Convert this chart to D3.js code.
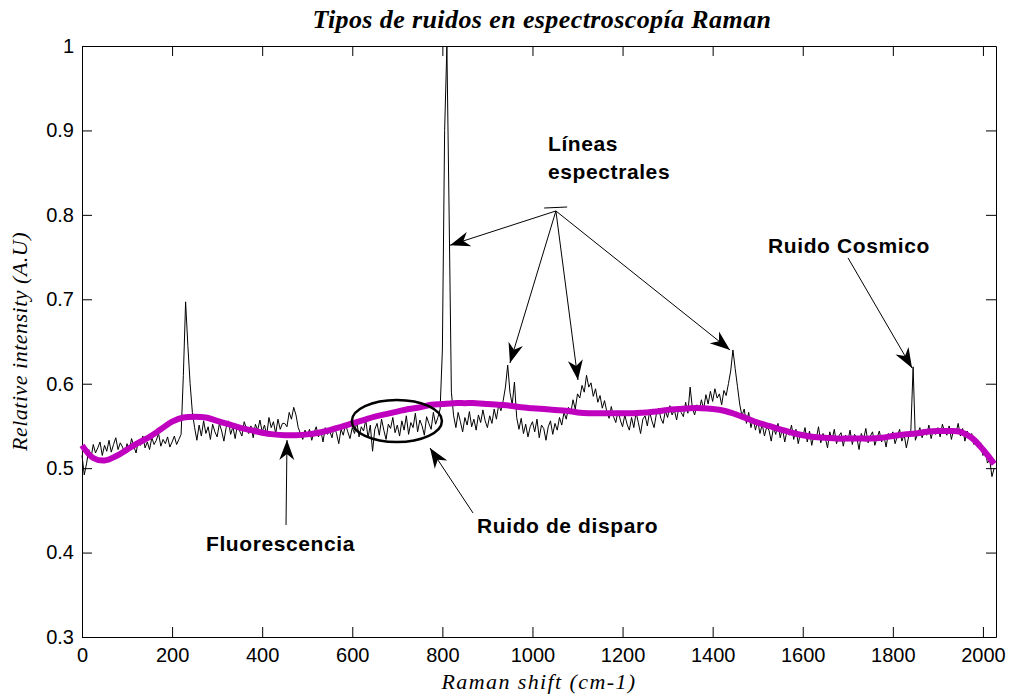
<!DOCTYPE html>
<html>
<head>
<meta charset="utf-8">
<script src="https://cdn.jsdelivr.net/npm/d3@7"></script>
<style>
  html, body { margin: 0; padding: 0; background: #fff; }
  svg { display: block; }
</style>
</head>
<body>
<svg id="chart" width="1009" height="700"></svg>
<script>
// Raman spectrum sampled every 5 cm-1, from 0 to 2025
const shiftStep = 5;
const intensity = [
  // 0 - 95
  0.515, 0.492, 0.505, 0.522, 0.512, 0.528, 0.518, 0.524, 0.531, 0.515, 0.527, 0.520, 0.533, 0.519, 0.528, 0.536, 0.522, 0.530, 0.525, 0.517,
  // 100 - 195
  0.529, 0.521, 0.535, 0.526, 0.518, 0.532, 0.527, 0.538, 0.524, 0.531, 0.522, 0.536, 0.528, 0.533, 0.541, 0.526, 0.534, 0.529, 0.537, 0.525,
  // 200 - 295
  0.531, 0.538, 0.528, 0.534, 0.540, 0.610, 0.697, 0.645, 0.600, 0.566, 0.548, 0.533, 0.551, 0.538, 0.556, 0.541, 0.549, 0.534, 0.552, 0.543,
  // 300 - 395
  0.537, 0.553, 0.544, 0.532, 0.548, 0.556, 0.540, 0.549, 0.535, 0.551, 0.544, 0.538, 0.555, 0.547, 0.541, 0.550, 0.536, 0.552, 0.545, 0.557,
  // 400 - 495
  0.543, 0.551, 0.539, 0.560, 0.548, 0.555, 0.541, 0.558, 0.546, 0.553, 0.553, 0.549, 0.566, 0.558, 0.572, 0.563, 0.548, 0.541, 0.534, 0.545,
  // 500 - 595
  0.538, 0.546, 0.533, 0.542, 0.549, 0.537, 0.545, 0.531, 0.548, 0.540, 0.544, 0.536, 0.550, 0.541, 0.529, 0.546, 0.539, 0.552, 0.543, 0.535,
  // 600 - 695
  0.548, 0.541, 0.555, 0.537, 0.549, 0.544, 0.557, 0.536, 0.551, 0.520, 0.546, 0.553, 0.539, 0.558, 0.545, 0.534, 0.552, 0.547, 0.560, 0.542,
  // 700 - 795
  0.551, 0.538, 0.556, 0.545, 0.562, 0.540, 0.554, 0.548, 0.565, 0.543, 0.557, 0.550, 0.539, 0.561, 0.553, 0.546, 0.566, 0.552, 0.560, 0.570,
  // 800 - 895
  0.640, 0.900, 1.000, 0.800, 0.590, 0.562, 0.548, 0.566, 0.555, 0.543, 0.560, 0.551, 0.567, 0.549, 0.558, 0.545, 0.563, 0.554, 0.569, 0.556,
  // 900 - 995
  0.548, 0.562, 0.553, 0.570, 0.558, 0.575, 0.568, 0.580, 0.596, 0.622, 0.590, 0.575, 0.602, 0.560, 0.546, 0.559, 0.541, 0.552, 0.537, 0.549,
  // 1000 - 1095
  0.555, 0.543, 0.558, 0.536, 0.551, 0.547, 0.533, 0.549, 0.556, 0.540, 0.553, 0.545, 0.560, 0.551, 0.566, 0.558, 0.572, 0.565, 0.581, 0.570,
  // 1100 - 1195
  0.588, 0.583, 0.598, 0.590, 0.610, 0.596, 0.601, 0.585, 0.594, 0.578, 0.586, 0.571, 0.580, 0.567, 0.559, 0.573, 0.561, 0.554, 0.568, 0.557,
  // 1200 - 1295
  0.549, 0.563, 0.552, 0.545, 0.560, 0.548, 0.566, 0.554, 0.541, 0.558, 0.562, 0.550, 0.567, 0.556, 0.548, 0.564, 0.571, 0.559, 0.553, 0.568,
  // 1300 - 1395
  0.560, 0.574, 0.563, 0.569, 0.557, 0.572, 0.566, 0.561, 0.578, 0.565, 0.596, 0.571, 0.563, 0.575, 0.568, 0.581, 0.570, 0.587, 0.576, 0.591,
  // 1400 - 1495
  0.579, 0.594, 0.583, 0.588, 0.575, 0.592, 0.586, 0.600, 0.615, 0.640, 0.618, 0.597, 0.576, 0.562, 0.570, 0.553, 0.566, 0.548, 0.559, 0.545,
  // 1500 - 1595
  0.556, 0.541, 0.552, 0.538, 0.549, 0.545, 0.532, 0.548, 0.540, 0.553, 0.536, 0.547, 0.531, 0.544, 0.539, 0.551, 0.534, 0.546, 0.529, 0.542,
  // 1600 - 1695
  0.537, 0.548, 0.531, 0.544, 0.527, 0.540, 0.535, 0.549, 0.530, 0.541, 0.536, 0.524, 0.543, 0.533, 0.546, 0.529, 0.538, 0.542, 0.526, 0.539,
  // 1700 - 1795
  0.532, 0.545, 0.528, 0.540, 0.536, 0.522, 0.541, 0.534, 0.547, 0.530, 0.538, 0.543, 0.527, 0.536, 0.544, 0.531, 0.539, 0.525, 0.541, 0.535,
  // 1800 - 1895
  0.543, 0.529, 0.538, 0.546, 0.532, 0.540, 0.524, 0.537, 0.545, 0.620, 0.533, 0.541, 0.548, 0.536, 0.544, 0.539, 0.551, 0.535, 0.546, 0.540,
  // 1900 - 1995
  0.548, 0.537, 0.552, 0.543, 0.539, 0.550, 0.534, 0.546, 0.541, 0.553, 0.538, 0.547, 0.532, 0.544, 0.536, 0.541, 0.528, 0.535, 0.524, 0.530,
  // 2000 - 2025
  0.515, 0.522, 0.506, 0.510, 0.490, 0.500
];

// fluorescence background (magenta)
const baselineShift = [0, 25, 50, 75, 100, 125, 150, 175, 200, 225, 250, 275, 300, 325, 350, 375, 400, 425, 450, 475,
  500, 525, 550, 575, 600, 625, 650, 675, 700, 725, 750, 775, 800, 825, 850, 875, 900, 925, 950, 975,
  1000, 1025, 1050, 1075, 1100, 1125, 1150, 1175, 1200, 1225, 1250, 1275, 1300, 1325, 1350, 1375, 1400, 1425, 1450, 1475,
  1500, 1525, 1550, 1575, 1600, 1625, 1650, 1675, 1700, 1725, 1750, 1775, 1800, 1825, 1850, 1875, 1900, 1925, 1950, 1975,
  2000, 2025];
const baselineValue = [0.527, 0.512, 0.509, 0.514, 0.522, 0.530, 0.537, 0.546, 0.555, 0.560, 0.561, 0.560, 0.556, 0.552, 0.548, 0.545, 0.542, 0.540, 0.539, 0.539,
  0.540, 0.542, 0.545, 0.549, 0.553, 0.557, 0.561, 0.564, 0.567, 0.570, 0.572, 0.575, 0.576, 0.577, 0.577, 0.577, 0.576, 0.575, 0.574, 0.572,
  0.571, 0.570, 0.569, 0.568, 0.566, 0.565, 0.565, 0.565, 0.565, 0.565, 0.566, 0.567, 0.569, 0.570, 0.571, 0.571, 0.570, 0.568, 0.564, 0.559,
  0.554, 0.550, 0.546, 0.542, 0.539, 0.537, 0.536, 0.535, 0.535, 0.535, 0.535, 0.536, 0.538, 0.540, 0.541, 0.543, 0.544, 0.544, 0.543, 0.536,
  0.522, 0.505];

const xTicks = [0, 200, 400, 600, 800, 1000, 1200, 1400, 1600, 1800, 2000];
const yTicks = [0.3, 0.4, 0.5, 0.6, 0.7, 0.8, 0.9, 1];

// annotations, in data units (shift, intensity)
const spectralOrigin = [1052, 0.8046];
const spectralTips = [[817, 0.764], [950, 0.6245], [1101, 0.6044], [1438.5, 0.640]];
const otherArrows = [
  { from: [1700.5, 0.749], to: [1842.6, 0.6186] },   // Ruido Cosmico
  { from: [452.9, 0.4327], to: [455.1, 0.5333] },    // Fluorescencia
  { from: [868, 0.4469], to: [772.5, 0.5239] }       // Ruido de disparo
];
const noteLabels = [
  { text: 'Líneas', at: [1034.5, 0.8756] },
  { text: 'espectrales', at: [1034.5, 0.8425] },
  { text: 'Ruido Cosmico', at: [1523, 0.7548] },
  { text: 'Fluorescencia', at: [275.3, 0.4019] },
  { text: 'Ruido de disparo', at: [876.9, 0.4232] }
];
const shotNoiseRegion = { center: [699, 0.5558], rx: 100, ry: 0.0249 };

const svg = d3.select('#chart');
const plotLeft = 82, plotRight = 996, plotTop = 46, plotBottom = 637;

const x = d3.scaleLinear().domain([0, 2029]).range([plotLeft, plotRight]);
const y = d3.scaleLinear().domain([0.3, 1]).range([plotBottom, plotTop]);

svg.append('rect').attr('width', 1009).attr('height', 700).attr('fill', '#fff');

// axes with inward ticks on all four sides
const fmt = d3.format('~g');
const styleAxis = (g) => {
  g.selectAll('path.domain').attr('stroke', '#000').attr('stroke-width', 1);
  g.selectAll('.tick line').attr('stroke', '#000');
  g.selectAll('text').attr('font-family', '"Liberation Sans", Arial, sans-serif').attr('font-size', 20).attr('fill', '#000');
};
svg.append('g').attr('transform', `translate(0,${plotBottom})`)
  .call(d3.axisBottom(x).tickValues(xTicks).tickFormat(fmt).tickSizeInner(-10).tickSizeOuter(0).tickPadding(11))
  .call(styleAxis);
svg.append('g').attr('transform', `translate(0,${plotTop})`)
  .call(d3.axisTop(x).tickValues(xTicks).tickFormat('').tickSizeInner(-10).tickSizeOuter(0))
  .call(styleAxis);
svg.append('g').attr('transform', `translate(${plotLeft},0)`)
  .call(d3.axisLeft(y).tickValues(yTicks).tickFormat(fmt).tickSizeInner(-10).tickSizeOuter(0).tickPadding(8))
  .call(styleAxis);
svg.append('g').attr('transform', `translate(${plotRight},0)`)
  .call(d3.axisRight(y).tickValues(yTicks).tickFormat('').tickSizeInner(-10).tickSizeOuter(0))
  .call(styleAxis);

// spectrum
const spectrum = intensity.map((v, i) => [i * shiftStep, v]);
const line = d3.line().x((d) => x(d[0])).y((d) => y(d[1]));
svg.append('path')
  .datum(spectrum)
  .attr('d', line)
  .attr('fill', 'none')
  .attr('stroke', '#000')
  .attr('stroke-width', 1)
  .attr('stroke-linejoin', 'miter');

// background
const baseline = baselineShift.map((s, i) => [s, baselineValue[i]]);
svg.append('path')
  .datum(baseline)
  .attr('d', line.curve(d3.curveCatmullRom))
  .attr('fill', 'none')
  .attr('stroke', '#bf00bf')
  .attr('stroke-width', 6)
  .attr('stroke-linecap', 'butt');

// arrows
const ann = svg.append('g').attr('stroke', '#000').attr('fill', '#000');
const arrow = (from, to) => {
  const x1 = x(from[0]), y1 = y(from[1]), x2 = x(to[0]), y2 = y(to[1]);
  ann.append('line').attr('x1', x1).attr('y1', y1).attr('x2', x2).attr('y2', y2).attr('stroke-width', 1);
  const ang = Math.atan2(y2 - y1, x2 - x1) * 180 / Math.PI;
  ann.append('path')
    .attr('d', 'M0,0 L-20,-7.5 L-14,0 L-20,7.5 Z')
    .attr('stroke', 'none')
    .attr('transform', `translate(${x2},${y2}) rotate(${ang})`);
};
spectralTips.forEach((t) => arrow(spectralOrigin, t));
otherArrows.forEach((a) => arrow(a.from, a.to));

// small stroke where the spectral-line arrows meet
ann.append('line')
  .attr('x1', x(spectralOrigin[0] - 26)).attr('y1', y(spectralOrigin[1] + 0.0035))
  .attr('x2', x(spectralOrigin[0] + 25)).attr('y2', y(spectralOrigin[1] + 0.0047))
  .attr('stroke-width', 1);

// shot-noise ellipse
svg.append('ellipse')
  .attr('cx', x(shotNoiseRegion.center[0]))
  .attr('cy', y(shotNoiseRegion.center[1]))
  .attr('rx', x(shotNoiseRegion.rx) - x(0))
  .attr('ry', y(0.3) - y(0.3 + shotNoiseRegion.ry))
  .attr('fill', 'none')
  .attr('stroke', '#000')
  .attr('stroke-width', 2.5);

// labels
svg.append('g').selectAll('text').data(noteLabels).enter().append('text')
  .attr('x', (d) => x(d.at[0]))
  .attr('y', (d) => y(d.at[1]))
  .attr('font-family', '"Liberation Sans", Arial, sans-serif')
  .attr('font-weight', 'bold')
  .attr('font-size', 21)
  .attr('letter-spacing', 0.6)
  .attr('fill', '#000')
  .text((d) => d.text);

// titles
svg.append('text')
  .attr('x', (plotLeft + plotRight) / 2 + 3).attr('y', 28)
  .attr('text-anchor', 'middle')
  .attr('font-family', '"Liberation Serif", "Times New Roman", serif')
  .attr('font-style', 'italic').attr('font-weight', 'bold')
  .attr('font-size', 26)
  .attr('letter-spacing', 0.4)
  .text('Tipos de ruidos en espectroscopía Raman');

svg.append('text')
  .attr('x', (plotLeft + plotRight) / 2).attr('y', 689)
  .attr('text-anchor', 'middle')
  .attr('font-family', '"Liberation Serif", "Times New Roman", serif')
  .attr('font-style', 'italic')
  .attr('font-size', 22)
  .attr('letter-spacing', 1.4)
  .text('Raman shift (cm-1)');

svg.append('text')
  .attr('transform', `translate(27,${(plotTop + plotBottom) / 2}) rotate(-90)`)
  .attr('text-anchor', 'middle')
  .attr('font-family', '"Liberation Serif", "Times New Roman", serif')
  .attr('font-style', 'italic')
  .attr('font-size', 22)
  .attr('letter-spacing', 0.5)
  .text('Relative intensity (A.U)');
</script>
</body>
</html>
